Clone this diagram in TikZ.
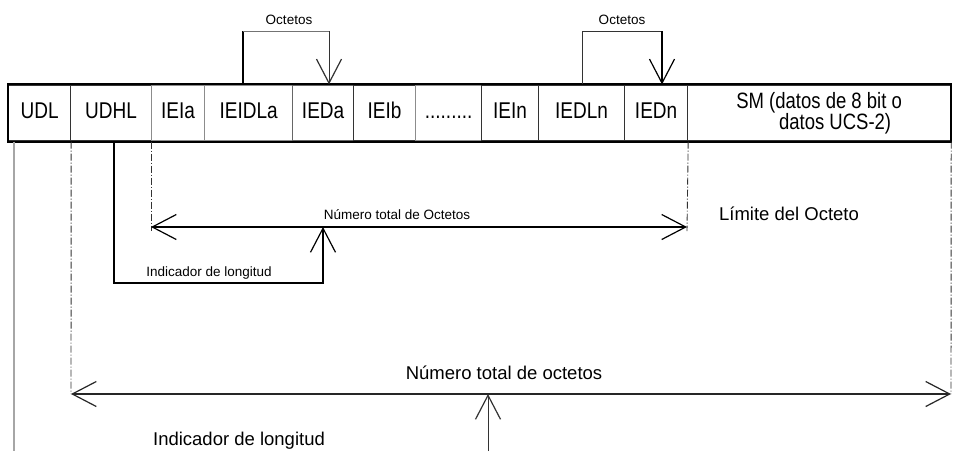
\documentclass[tikz,border=0pt]{standalone}
\usepackage{fontspec}
\setmainfont{Liberation Sans}
\usetikzlibrary{arrows.meta}
\newcommand{\tallt}[1]{\scalebox{1}[1.2]{#1}}
\tikzset{barb/.tip={Straight Barb[length=24pt,width=25pt,line width=1.2pt]}}
\begin{document}
\begin{tikzpicture}[x=1pt,y=-1pt,
  cell/.style={draw=black!80, line width=1.2pt, minimum height=56pt, inner sep=0pt, anchor=west,
    text height=16.5pt, text depth=6pt, font=\fontsize{19}{22}\selectfont},
  lbl/.style={inner sep=0pt, font=\fontsize{18.5}{22}\selectfont},
  small/.style={inner sep=0pt, font=\fontsize{13.5}{16}\selectfont},
  vee/.style={-barb},
  ddot/.style={dash pattern=on 7pt off 2pt on 1pt off 2pt, line width=0.9pt, black!80}
]
\useasboundingbox (0,0) rectangle (958,451);
\fill[white] (0,0) rectangle (958,451);

% cells
\node[cell, minimum width=62pt] (udl) at (8,113) {\tallt{UDL}};
\node[cell, minimum width=81pt] (udhl) at (70,113) {\tallt{UDHL}};
\node[cell, minimum width=53pt, draw=black!45] (ieia) at (151,113) {\tallt{IEIa}};
\node[cell, minimum width=88pt, draw=black!45] (ieidla) at (204,113) {\tallt{IEIDLa}};
\node[cell, minimum width=61pt, draw=black!60] (ieda) at (292,113) {\tallt{IEDa}};
\node[cell, minimum width=62pt] (ieib) at (353,113) {\tallt{IEIb}};
\node[cell, minimum width=66pt, draw=black!45] (dots) at (415,113) {\tallt{.........}};
\node[cell, minimum width=57pt] (iein) at (481,113) {\tallt{IEIn}};
\node[cell, minimum width=86pt] (iedln) at (538,113) {\tallt{IEDLn}};
\node[cell, minimum width=63pt] (iedn) at (624,113) {\tallt{IEDn}};
\node[cell, minimum width=263pt] (sm) at (687,113) {};
\node[lbl, align=center, anchor=center] (smt) at (sm.center) {\tallt{SM (datos de 8 bit o}\\[-1pt]\hspace{32pt}\tallt{datos UCS-2)}};
\draw[line width=2pt] (udl.north west) rectangle (sm.south east);

% Octetos arrows
\coordinate (o1a) at (243,31);
\coordinate (o1b) at (329,31);
\coordinate (o2a) at (582,31);
\coordinate (o2b) at (662,31);
\node[small] (oct1) at (289,20) {Octetos};
\node[small] (oct2) at (622,20) {Octetos};
\draw[line width=2.2pt] (ieidla.north -| o1a) -- (o1a);
\draw[black!55, line width=1pt] (o1a) -- (o1b);
\draw[vee, line width=1pt, black!80] (o1b) -- (ieda.north -| o1b);
\draw[line width=1pt, black!80] (iedln.north -| o2a) -- (o2a) -- (o2b);
\draw[vee, line width=1.8pt] (o2b) -- (iedn.north -| o2b);

% middle section
\coordinate (ml) at (151,227);
\coordinate (mr) at (687,227);
\coordinate (mu) at (323,227);
\coordinate (c1) at (114,283);
\coordinate (c2) at (323,283);
\draw[ddot] (ieia.south west) -- ([yshift=-4pt]ml);
\draw[ddot] (iedn.south east) -- ([yshift=-4pt]mr);
\draw[barb-barb, line width=2pt] (ml) -- (mr);
\draw[vee, line width=1.2pt] (udhl.south -| c1) -- (c1) -- (c2) -- (mu);
\node[small] (nto) at (397,215) {Número total de Octetos};
\node[lbl] (lim) at (789,214) {Límite del Octeto};
\node[small] (il1) at (209,273) {Indicador de longitud};

% bottom section
\coordinate (bl) at (71,394);
\coordinate (br) at (951,394);
\coordinate (bu) at (488,394);
\coordinate (bb) at (488,451);
\draw[black!35, line width=2pt] (udl.south west -| 14,0) -- (14,451);
\draw[ddot] (udl.south east) -- (bl);
\draw[ddot] (sm.south east) -- (br);
\draw[barb-barb, line width=1.2pt, black!85] (bl) -- (br);
\draw[vee, line width=1pt, black!80] (bb) -- (bu);
\node[lbl] (nto2) at (504,373) {Número total de octetos};
\node[lbl] (il2) at (239,441) {Indicador de longitud};
\end{tikzpicture}
\end{document}
